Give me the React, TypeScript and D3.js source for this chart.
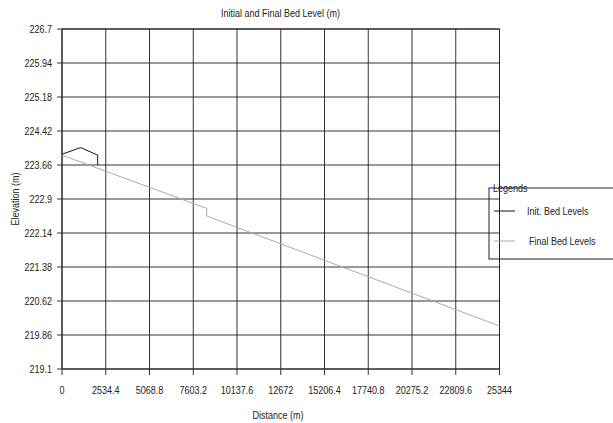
import { scaleLinear, line as d3line, range } from "d3";

// Initial bed profile (distance m, elevation m)
const initDist = [0, 1083, 2068, 2068];
const initElev = [223.9, 224.05, 223.88, 223.66];

// Final bed profile
const finalDist = [0, 8382, 8382, 25344];
const finalElev = [223.88, 222.69, 222.52, 220.06];

const xTicks = [0, 2534.4, 5068.8, 7603.2, 10137.6, 12672, 15206.4, 17740.8, 20275.2, 22809.6, 25344];
const yTicks = [219.1, 219.86, 220.62, 221.38, 222.14, 222.9, 223.66, 224.42, 225.18, 225.94, 226.7];

const legendItems = [
  { label: "Init. Bed Levels", color: "#111" },
  { label: "Final Bed Levels", color: "#aaa" },
];

const W = 613;
const H = 423;
const M = { left: 62, right: 499.5, top: 29, bottom: 369 };
const font = "'Liberation Sans', Arial, sans-serif";

// narrow text: Liberation Sans squeezed horizontally
function T({ x, y, anchor = "start", rotate = 0, children }: any) {
  return (
    <text
      transform={`translate(${x},${y}) rotate(${rotate}) scale(0.82,1)`}
      textAnchor={anchor}
      fontSize={11}
      fill="#222"
    >
      {children}
    </text>
  );
}

export default function App() {
  const x = scaleLinear().domain([0, 25344]).range([M.left, M.right]);
  const y = scaleLinear().domain([219.1, 226.7]).range([M.bottom, M.top]);

  const initPath = d3line<number>()
    .x((i) => x(initDist[i]))
    .y((i) => y(initElev[i]))(range(initDist.length));
  const finalPath = d3line<number>()
    .x((i) => x(finalDist[i]))
    .y((i) => y(finalElev[i]))(range(finalDist.length));

  return (
    <svg
      width={W}
      height={H}
      style={{ position: "absolute", left: 0, top: 0, fontFamily: font }}
    >
      <rect width={W} height={H} fill="#fff" />
      <T x={280.5} y={17} anchor="middle">
        Initial and Final Bed Level (m)
      </T>

      {/* grid + ticks */}
      {xTicks.map((t, i) => (
        <g key={"x" + i}>
          <line x1={x(t)} x2={x(t)} y1={M.top} y2={M.bottom + 6} stroke="#333" strokeWidth={1} />
          <T x={x(t)} y={394} anchor="middle">
            {t}
          </T>
        </g>
      ))}
      {yTicks.map((t, i) => (
        <g key={"y" + i}>
          <line x1={M.left - 5} x2={M.right} y1={y(t)} y2={y(t)} stroke="#333" strokeWidth={1} />
          <T x={52} y={y(t) + 4} anchor="end">
            {t}
          </T>
        </g>
      ))}
      <rect
        x={M.left}
        y={M.top}
        width={M.right - M.left}
        height={M.bottom - M.top}
        fill="none"
        stroke="#222"
        strokeWidth={1}
      />

      <path d={finalPath ?? undefined} fill="none" stroke="#aaa" strokeWidth={1} />
      <path d={initPath ?? undefined} fill="none" stroke="#111" strokeWidth={1} />

      <T x={278} y={419} anchor="middle">
        Distance (m)
      </T>
      <T x={19} y={199} anchor="middle" rotate={-90}>
        Elevation (m)
      </T>

      {/* legend */}
      <rect x={489} y={188} width={140} height={71} fill="none" stroke="#222" strokeWidth={1} />
      <T x={493} y={192}>Legends</T>
      {legendItems.map((d, i) => (
        <g key={d.label}>
          <line x1={494} x2={515} y1={211 + i * 30} y2={211 + i * 30} stroke={d.color} strokeWidth={1} />
          <T x={527 + i * 2} y={215 + i * 30}>
            {d.label}
          </T>
        </g>
      ))}
    </svg>
  );
}
